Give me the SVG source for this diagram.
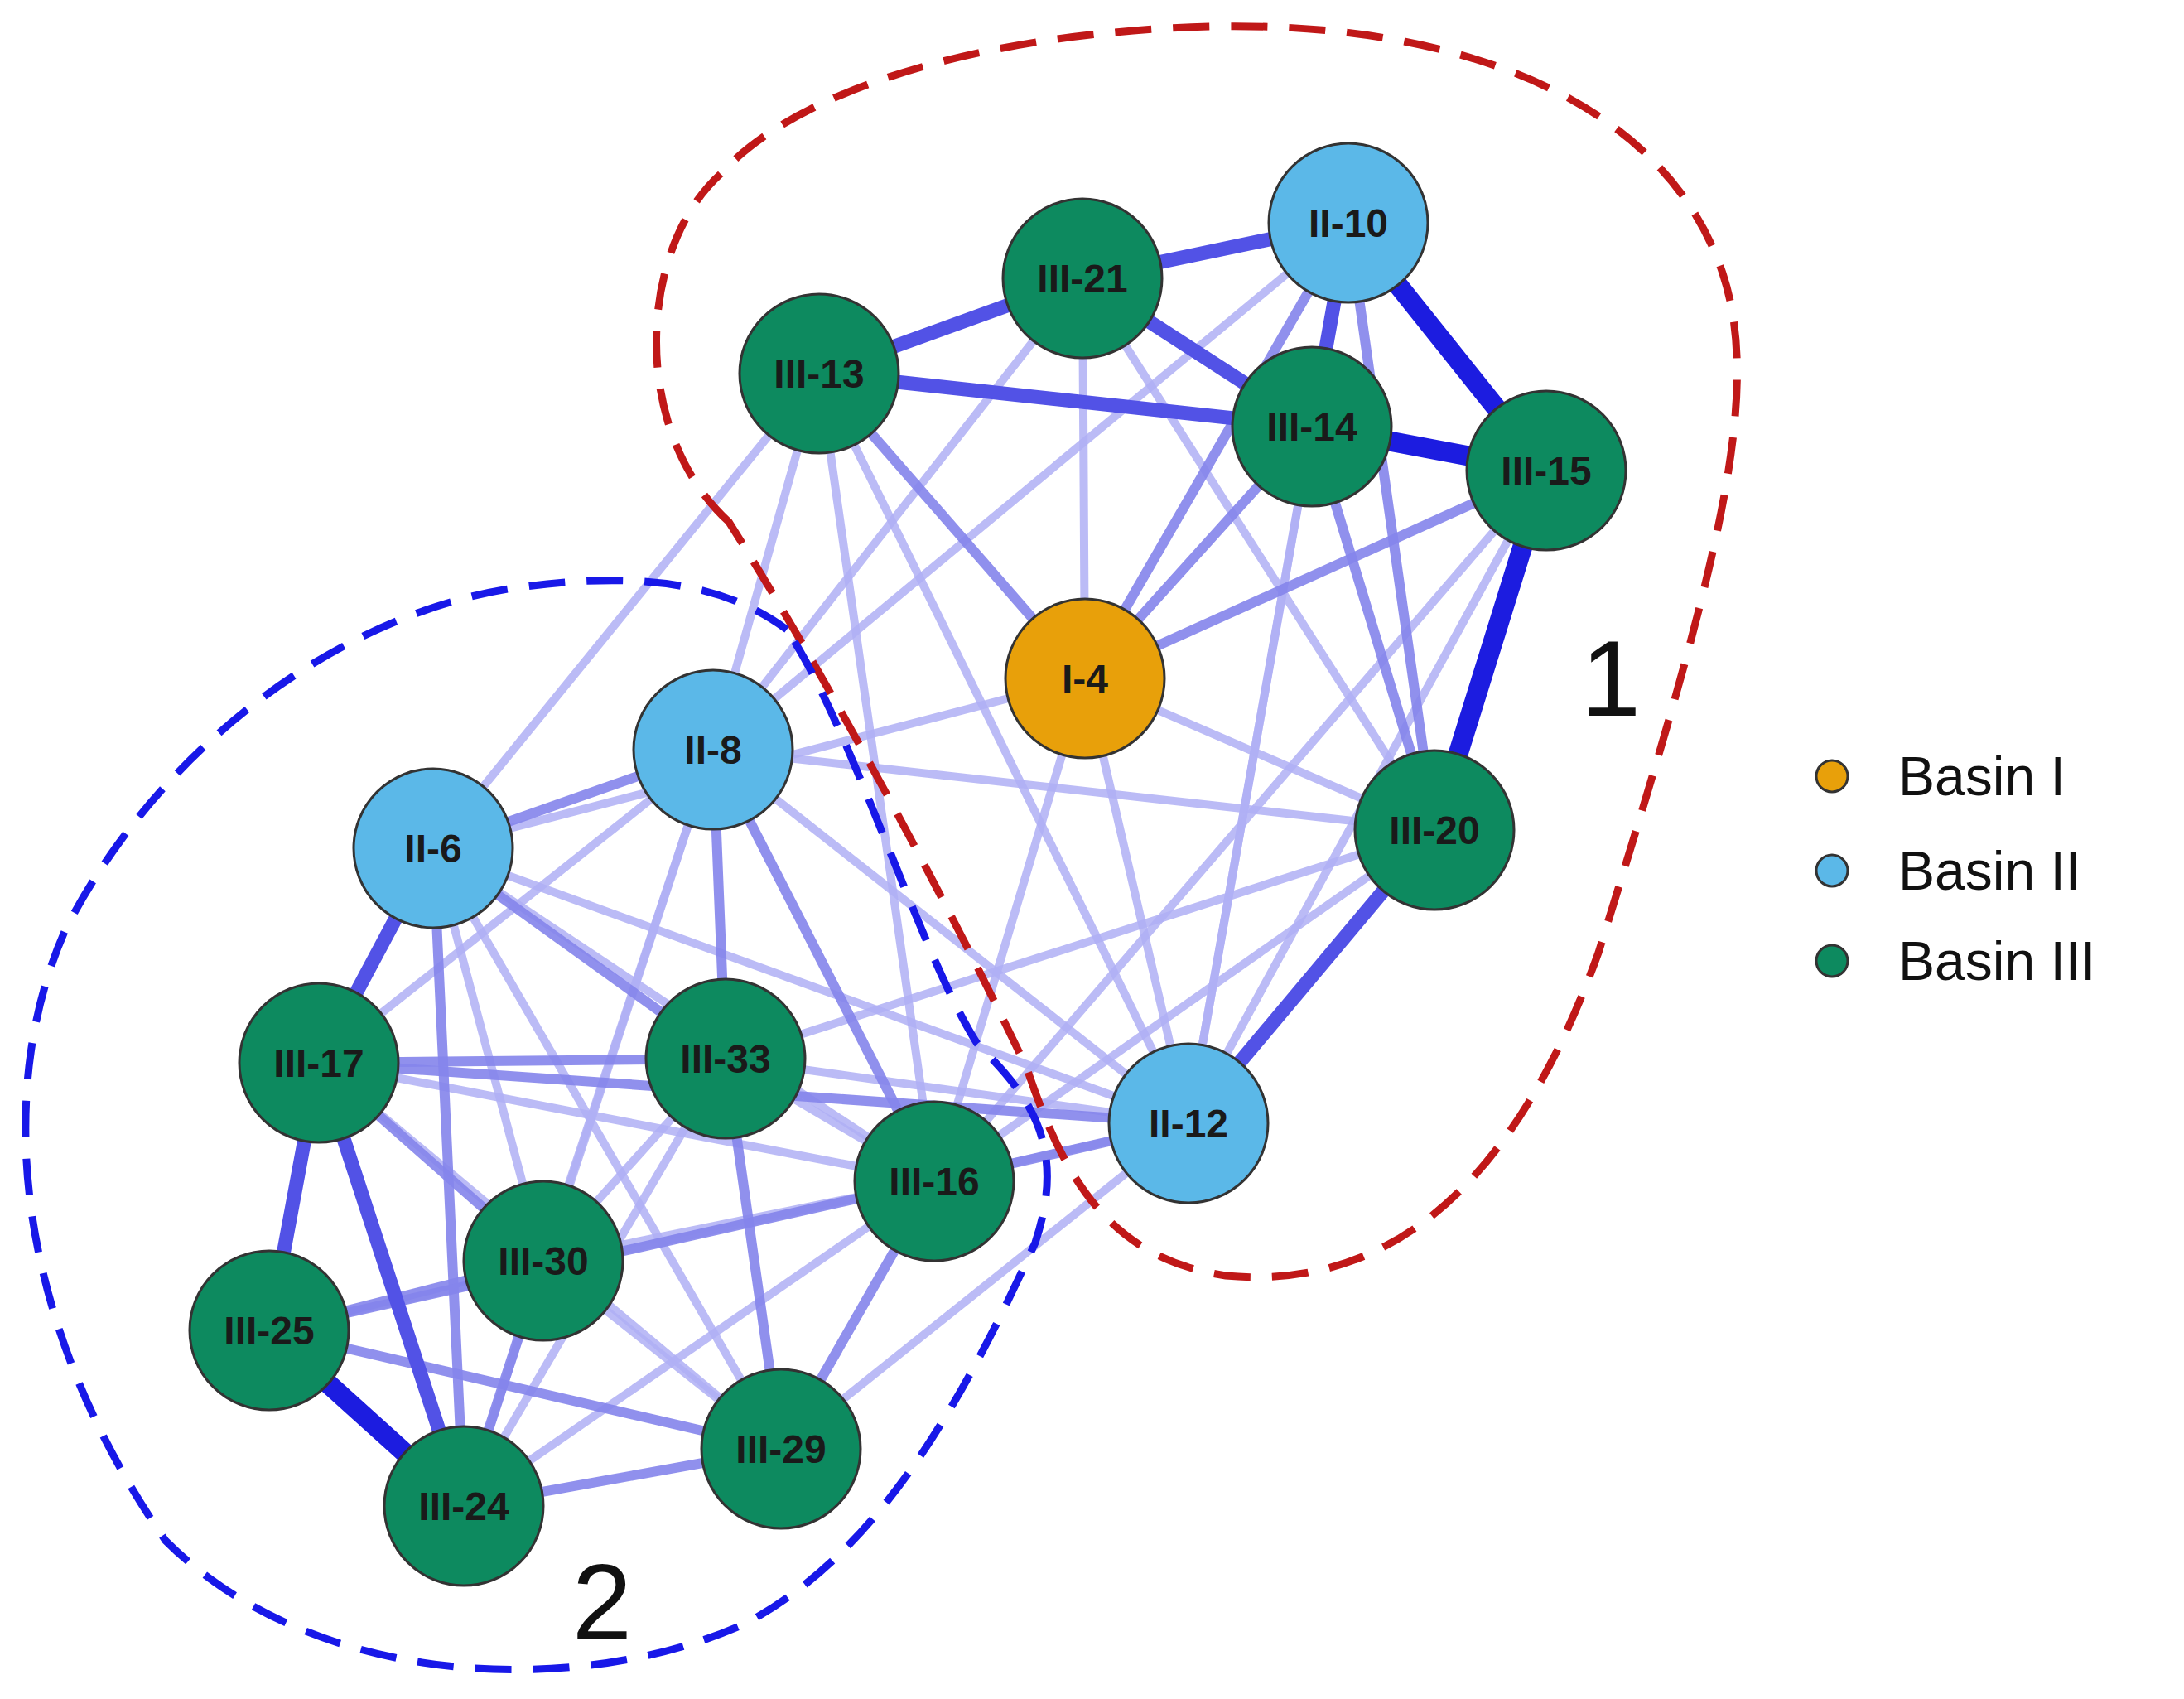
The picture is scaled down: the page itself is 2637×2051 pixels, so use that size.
<svg xmlns="http://www.w3.org/2000/svg" width="2637" height="2051" viewBox="0 0 2637 2051">
<style>
.s{stroke:#1c1ce0;stroke-width:24;stroke-linecap:round}
.m{stroke:#5252e6;stroke-width:17;stroke-linecap:round}
.d{stroke:#8585ec;stroke-width:12;stroke-linecap:round;opacity:.9}
.l{stroke:#b0b0f5;stroke-width:10;stroke-linecap:round;opacity:.85}
.n circle{stroke:#333;stroke-width:3}
.g{fill:#0d8a5f}.b{fill:#5bb8e8}.o{fill:#e8a00a}
.n text{font-family:"Liberation Sans",Arial,sans-serif;font-size:48px;font-weight:bold;fill:#1a1a1a;text-anchor:middle;dominant-baseline:central}
.lg{font-family:"Liberation Sans",Arial,sans-serif;font-size:66px;fill:#111;dominant-baseline:central}
.num{font-family:"Liberation Sans",Arial,sans-serif;font-size:130px;fill:#111;text-anchor:middle;dominant-baseline:central}
</style>
<rect width="2637" height="2051" fill="#fff"/>
<g id="connectors">
<line class="l" x1="989" y1="451" x2="861" y2="905"/><line class="l" x1="989" y1="451" x2="523" y2="1024"/>
<line class="l" x1="989" y1="451" x2="1128" y2="1426"/><line class="l" x1="989" y1="451" x2="1435" y2="1356"/>
<line class="l" x1="1307" y1="336" x2="1310" y2="819"/><line class="l" x1="1307" y1="336" x2="1732" y2="1002"/>
<line class="l" x1="1307" y1="336" x2="861" y2="905"/><line class="l" x1="1628" y1="269" x2="1435" y2="1356"/>
<line class="l" x1="1867" y1="568" x2="1435" y2="1356"/><line class="l" x1="1310" y1="819" x2="1435" y2="1356"/>
<line class="l" x1="1310" y1="819" x2="1128" y2="1426"/><line class="l" x1="1310" y1="819" x2="1732" y2="1002"/>
<line class="l" x1="861" y1="905" x2="1732" y2="1002"/><line class="l" x1="861" y1="905" x2="1435" y2="1356"/>
<line class="l" x1="523" y1="1024" x2="1435" y2="1356"/><line class="l" x1="523" y1="1024" x2="1128" y2="1426"/>
<line class="l" x1="523" y1="1024" x2="656" y2="1522"/><line class="l" x1="876" y1="1278" x2="1435" y2="1356"/>
<line class="l" x1="876" y1="1278" x2="1128" y2="1426"/><line class="l" x1="876" y1="1278" x2="656" y2="1522"/>
<line class="l" x1="876" y1="1278" x2="560" y2="1818"/><line class="l" x1="385" y1="1283" x2="1128" y2="1426"/>
<line class="l" x1="385" y1="1283" x2="943" y2="1749"/><line class="l" x1="656" y1="1522" x2="943" y2="1749"/>
<line class="l" x1="656" y1="1522" x2="1128" y2="1426"/><line class="l" x1="1128" y1="1426" x2="560" y2="1818"/>
<line class="l" x1="1435" y1="1356" x2="943" y2="1749"/><line class="l" x1="1732" y1="1002" x2="876" y2="1278"/>
<line class="l" x1="1732" y1="1002" x2="1128" y2="1426"/><line class="l" x1="1584" y1="515" x2="1435" y2="1356"/>
<line class="l" x1="1867" y1="568" x2="1128" y2="1426"/><line class="l" x1="1628" y1="269" x2="861" y2="905"/>
<line class="l" x1="861" y1="905" x2="656" y2="1522"/><line class="l" x1="861" y1="905" x2="560" y2="1818"/>
<line class="l" x1="861" y1="905" x2="385" y2="1283"/><line class="l" x1="1435" y1="1356" x2="325" y2="1606"/>
<line class="l" x1="523" y1="1024" x2="943" y2="1749"/><line class="l" x1="1310" y1="819" x2="523" y2="1024"/>
<line class="d" x1="989" y1="451" x2="1310" y2="819"/><line class="d" x1="1310" y1="819" x2="1584" y2="515"/>
<line class="d" x1="1310" y1="819" x2="1867" y2="568"/><line class="d" x1="1628" y1="269" x2="1310" y2="819"/>
<line class="d" x1="861" y1="905" x2="523" y2="1024"/><line class="d" x1="523" y1="1024" x2="560" y2="1818"/>
<line class="d" x1="523" y1="1024" x2="876" y2="1278"/><line class="d" x1="385" y1="1283" x2="876" y2="1278"/>
<line class="d" x1="876" y1="1278" x2="943" y2="1749"/><line class="d" x1="656" y1="1522" x2="560" y2="1818"/>
<line class="d" x1="325" y1="1606" x2="656" y2="1522"/><line class="d" x1="325" y1="1606" x2="943" y2="1749"/>
<line class="d" x1="560" y1="1818" x2="943" y2="1749"/><line class="d" x1="861" y1="905" x2="876" y2="1278"/>
<line class="d" x1="861" y1="905" x2="1128" y2="1426"/><line class="d" x1="1584" y1="515" x2="1732" y2="1002"/>
<line class="d" x1="1435" y1="1356" x2="1128" y2="1426"/><line class="d" x1="385" y1="1283" x2="656" y2="1522"/>
<line class="d" x1="1128" y1="1426" x2="943" y2="1749"/><line class="d" x1="1628" y1="269" x2="1732" y2="1002"/>
<line class="d" x1="325" y1="1606" x2="1128" y2="1426"/><line class="d" x1="385" y1="1283" x2="1435" y2="1356"/>
<line class="m" x1="1628" y1="269" x2="1307" y2="336"/><line class="m" x1="1307" y1="336" x2="1584" y2="515"/>
<line class="m" x1="989" y1="451" x2="1584" y2="515"/><line class="m" x1="1628" y1="269" x2="1584" y2="515"/>
<line class="m" x1="989" y1="451" x2="1307" y2="336"/><line class="m" x1="385" y1="1283" x2="325" y2="1606"/>
<line class="m" x1="523" y1="1024" x2="385" y2="1283"/><line class="m" x1="385" y1="1283" x2="560" y2="1818"/>
<line class="m" x1="1732" y1="1002" x2="1435" y2="1356"/>
<line class="s" x1="1628" y1="269" x2="1867" y2="568"/><line class="s" x1="1867" y1="568" x2="1732" y2="1002"/>
<line class="s" x1="1584" y1="515" x2="1867" y2="568"/><line class="s" x1="325" y1="1606" x2="560" y2="1818"/>
</g>
<g id="cluster1"><path d="M880 630 C760 520 770 300 870 210 C960 110 1180 40 1460 32 C1760 25 2010 120 2080 330 C2130 480 2070 700 1930 1150 C1840 1400 1700 1560 1480 1540 C1350 1520 1290 1440 1240 1290 C1150 1100 1000 820 880 630 Z" fill="none" stroke="#c01818" stroke-width="9" stroke-dasharray="44 26"/></g>
<g id="cluster2"><path d="M950 760 C870 700 760 690 620 710 C420 740 200 890 80 1120 C-10 1320 20 1600 200 1860 C380 2040 700 2050 900 1960 C1050 1880 1150 1720 1250 1500 C1290 1380 1240 1320 1180 1260 C1110 1150 1030 880 950 760 Z" fill="none" stroke="#1818e8" stroke-width="9" stroke-dasharray="44 26"/></g>
<g id="nodes">
<g class="n" id="n-II-10"><circle class="b" cx="1628" cy="269" r="96"/><text x="1628" y="269">II-10</text></g>
<g class="n" id="n-III-21"><circle class="g" cx="1307" cy="336" r="96"/><text x="1307" y="336">III-21</text></g>
<g class="n" id="n-III-13"><circle class="g" cx="989" cy="451" r="96"/><text x="989" y="451">III-13</text></g>
<g class="n" id="n-III-14"><circle class="g" cx="1584" cy="515" r="96"/><text x="1584" y="515">III-14</text></g>
<g class="n" id="n-III-15"><circle class="g" cx="1867" cy="568" r="96"/><text x="1867" y="568">III-15</text></g>
<g class="n" id="n-I-4"><circle class="o" cx="1310" cy="819" r="96"/><text x="1310" y="819">I-4</text></g>
<g class="n" id="n-II-8"><circle class="b" cx="861" cy="905" r="96"/><text x="861" y="905">II-8</text></g>
<g class="n" id="n-II-6"><circle class="b" cx="523" cy="1024" r="96"/><text x="523" y="1024">II-6</text></g>
<g class="n" id="n-III-20"><circle class="g" cx="1732" cy="1002" r="96"/><text x="1732" y="1002">III-20</text></g>
<g class="n" id="n-III-17"><circle class="g" cx="385" cy="1283" r="96"/><text x="385" y="1283">III-17</text></g>
<g class="n" id="n-III-33"><circle class="g" cx="876" cy="1278" r="96"/><text x="876" y="1278">III-33</text></g>
<g class="n" id="n-II-12"><circle class="b" cx="1435" cy="1356" r="96"/><text x="1435" y="1356">II-12</text></g>
<g class="n" id="n-III-16"><circle class="g" cx="1128" cy="1426" r="96"/><text x="1128" y="1426">III-16</text></g>
<g class="n" id="n-III-30"><circle class="g" cx="656" cy="1522" r="96"/><text x="656" y="1522">III-30</text></g>
<g class="n" id="n-III-25"><circle class="g" cx="325" cy="1606" r="96"/><text x="325" y="1606">III-25</text></g>
<g class="n" id="n-III-29"><circle class="g" cx="943" cy="1749" r="96"/><text x="943" y="1749">III-29</text></g>
<g class="n" id="n-III-24"><circle class="g" cx="560" cy="1818" r="96"/><text x="560" y="1818">III-24</text></g>
</g>
<g id="labels"><text class="num" x="1945" y="819">1</text><text class="num" x="727" y="1934">2</text></g>
<g id="legend">
<circle cx="2212" cy="937" r="19" fill="#e8a00a" stroke="#333" stroke-width="3"/><text class="lg" x="2292" y="937">Basin I</text>
<circle cx="2212" cy="1051" r="19" fill="#5bb8e8" stroke="#333" stroke-width="3"/><text class="lg" x="2292" y="1051">Basin II</text>
<circle cx="2212" cy="1160" r="19" fill="#0d8a5f" stroke="#333" stroke-width="3"/><text class="lg" x="2292" y="1160">Basin III</text>
</g>
</svg>
